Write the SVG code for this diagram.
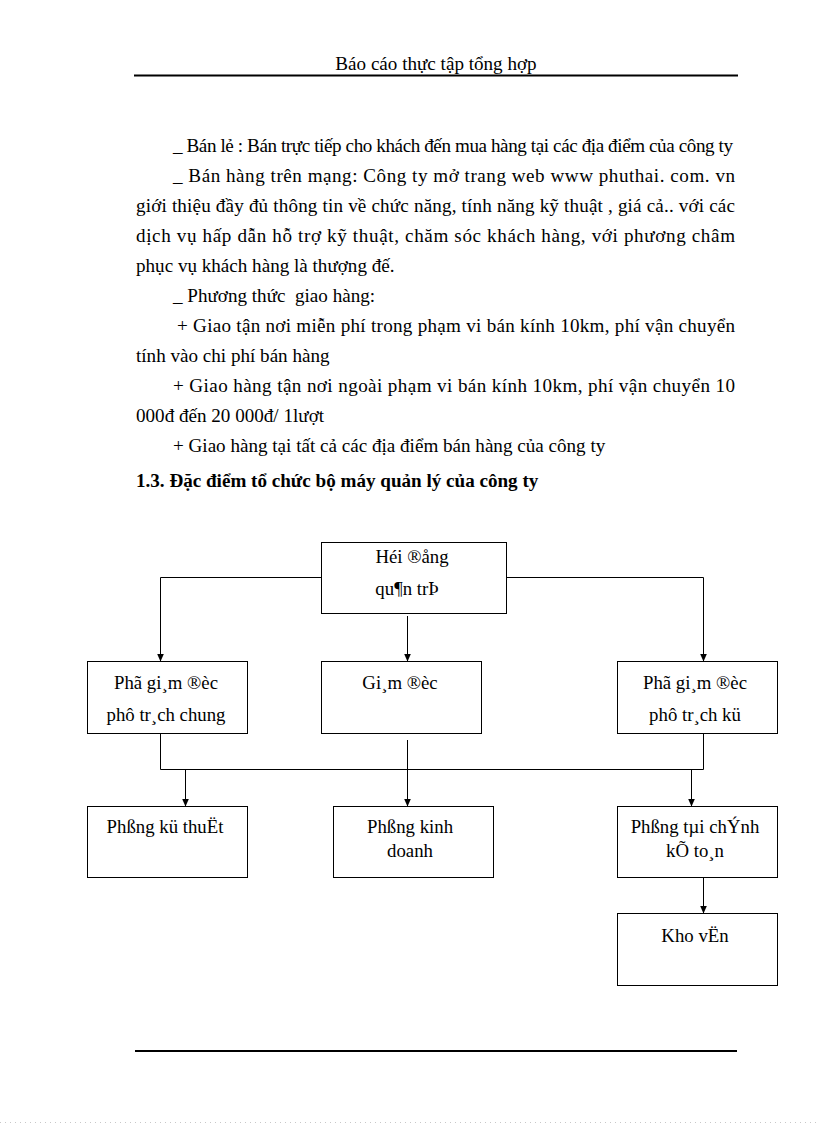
<svg xmlns="http://www.w3.org/2000/svg" width="816" height="1123" viewBox="0 0 816 1123">
<style>
.t{font-family:"Liberation Serif","Times New Roman",serif;font-size:19.1px;fill:#000}
.n{font-family:"Liberation Serif","Times New Roman",serif;font-size:18.8px;fill:#000;text-anchor:middle}
.b{font-weight:bold}
.c{text-anchor:middle}
.box{fill:#fff;stroke:#000;stroke-width:1}
.con{fill:none;stroke:#000;stroke-width:1}
</style>
<defs>
<marker id="arr" viewBox="0 0 8 7" refX="8" refY="3.5" markerWidth="8" markerHeight="7" orient="auto" markerUnits="userSpaceOnUse">
<path d="M0,0 L8,3.5 L0,7 z" fill="#000"/>
</marker>
</defs>
<rect width="816" height="1123" fill="#fff"/>
<g id="header">
<text class="t c" x="436" y="70">Báo cáo thực tập tổng hợp</text>
<rect x="134" y="74.5" width="604" height="2" fill="#000"/>
</g>
<g id="body">
<text class="t" x="173" y="152" textLength="560" lengthAdjust="spacing">_ Bán lẻ : Bán trực tiếp cho khách đến mua hàng tại các địa điểm của công ty</text>
<text class="t" x="173" y="182" textLength="562" lengthAdjust="spacing">_ Bán hàng trên mạng: Công ty mở trang web www phuthai. com. vn</text>
<text class="t" x="136" y="212" textLength="599" lengthAdjust="spacing">giới thiệu đầy đủ thông tin về chức năng, tính năng kỹ thuật , giá cả.. với các</text>
<text class="t" x="136" y="242" textLength="599" lengthAdjust="spacing">dịch vụ hấp dẫn hỗ trợ kỹ thuật, chăm sóc khách hàng, với phương châm</text>
<text class="t" x="136" y="272">phục vụ khách hàng là thượng đế.</text>
<text class="t" x="173" y="302" xml:space="preserve">_ Phương thức  giao hàng:</text>
<text class="t" x="177" y="332" textLength="558" lengthAdjust="spacing">+ Giao tận nơi miễn phí trong phạm vi bán kính 10km, phí vận chuyển</text>
<text class="t" x="136" y="362">tính vào chi phí bán hàng</text>
<text class="t" x="173" y="392" textLength="562" lengthAdjust="spacing">+ Giao hàng tận nơi ngoài phạm vi bán kính 10km, phí vận chuyển 10</text>
<text class="t" x="136" y="422">000đ đến 20 000đ/ 1lượt</text>
<text class="t" x="173" y="452">+ Giao hàng tại tất cả các địa điểm bán hàng của công ty</text>
<text class="t b" x="136" y="487">1.3. Đặc điểm tổ chức bộ máy quản lý của công ty</text>
</g>
<g id="connectors">
<path class="con" d="M321.5,577.5 H160.5 V661.5" marker-end="url(#arr)"/>
<path class="con" d="M506.5,577.5 H703.5 V661.5" marker-end="url(#arr)"/>
<path class="con" d="M407.5,616 V661.5" marker-end="url(#arr)"/>
<path class="con" d="M160.5,733.5 V769.5 H703.5 V733.5"/>
<path class="con" d="M407.5,740 V806.5" marker-end="url(#arr)"/>
<path class="con" d="M185.5,769.5 V806.5" marker-end="url(#arr)"/>
<path class="con" d="M691.5,769.5 V806.5" marker-end="url(#arr)"/>
<path class="con" d="M703.5,877.5 V913.5" marker-end="url(#arr)"/>
</g>
<g id="hoi-dong-quan-tri">
<rect class="box" x="321.5" y="542.5" width="185" height="71"/>
<text class="n" x="412" y="563">Héi ®ång</text>
<text class="n" x="407" y="595">qu¶n trÞ</text>
</g>
<g id="pho-giam-doc-chung">
<rect class="box" x="87.5" y="661.5" width="160" height="72"/>
<text class="n" x="166" y="689">Phã gi¸m ®èc</text>
<text class="n" x="166" y="721">phô tr¸ch chung</text>
</g>
<g id="giam-doc">
<rect class="box" x="321.5" y="661.5" width="160" height="72"/>
<text class="n" x="400" y="689">Gi¸m ®èc</text>
</g>
<g id="pho-giam-doc-ky">
<rect class="box" x="617.5" y="661.5" width="160" height="72"/>
<text class="n" x="695" y="689">Phã gi¸m ®èc</text>
<text class="n" x="695" y="721">phô tr¸ch kü</text>
</g>
<g id="phong-ky-thuat">
<rect class="box" x="87.5" y="806.5" width="160" height="71"/>
<text class="n" x="165" y="833">Phßng kü thuËt</text>
</g>
<g id="phong-kinh-doanh">
<rect class="box" x="333.5" y="806.5" width="160" height="71"/>
<text class="n" x="410" y="833">Phßng kinh</text>
<text class="n" x="410" y="857">doanh</text>
</g>
<g id="phong-tai-chinh">
<rect class="box" x="617.5" y="806.5" width="160" height="71"/>
<text class="n" x="695" y="833">Phßng tµi chÝnh</text>
<text class="n" x="695" y="857">kÕ to¸n</text>
</g>
<g id="kho-van">
<rect class="box" x="617.5" y="913.5" width="160" height="72"/>
<text class="n" x="695" y="942">Kho vËn</text>
</g>
<g id="footer">
<rect x="135" y="1050" width="602" height="2" fill="#000"/>
<line x1="0" y1="1122.5" x2="816" y2="1122.5" stroke="#c8c8c8" stroke-width="1" stroke-dasharray="1,4"/>
</g>
</svg>
